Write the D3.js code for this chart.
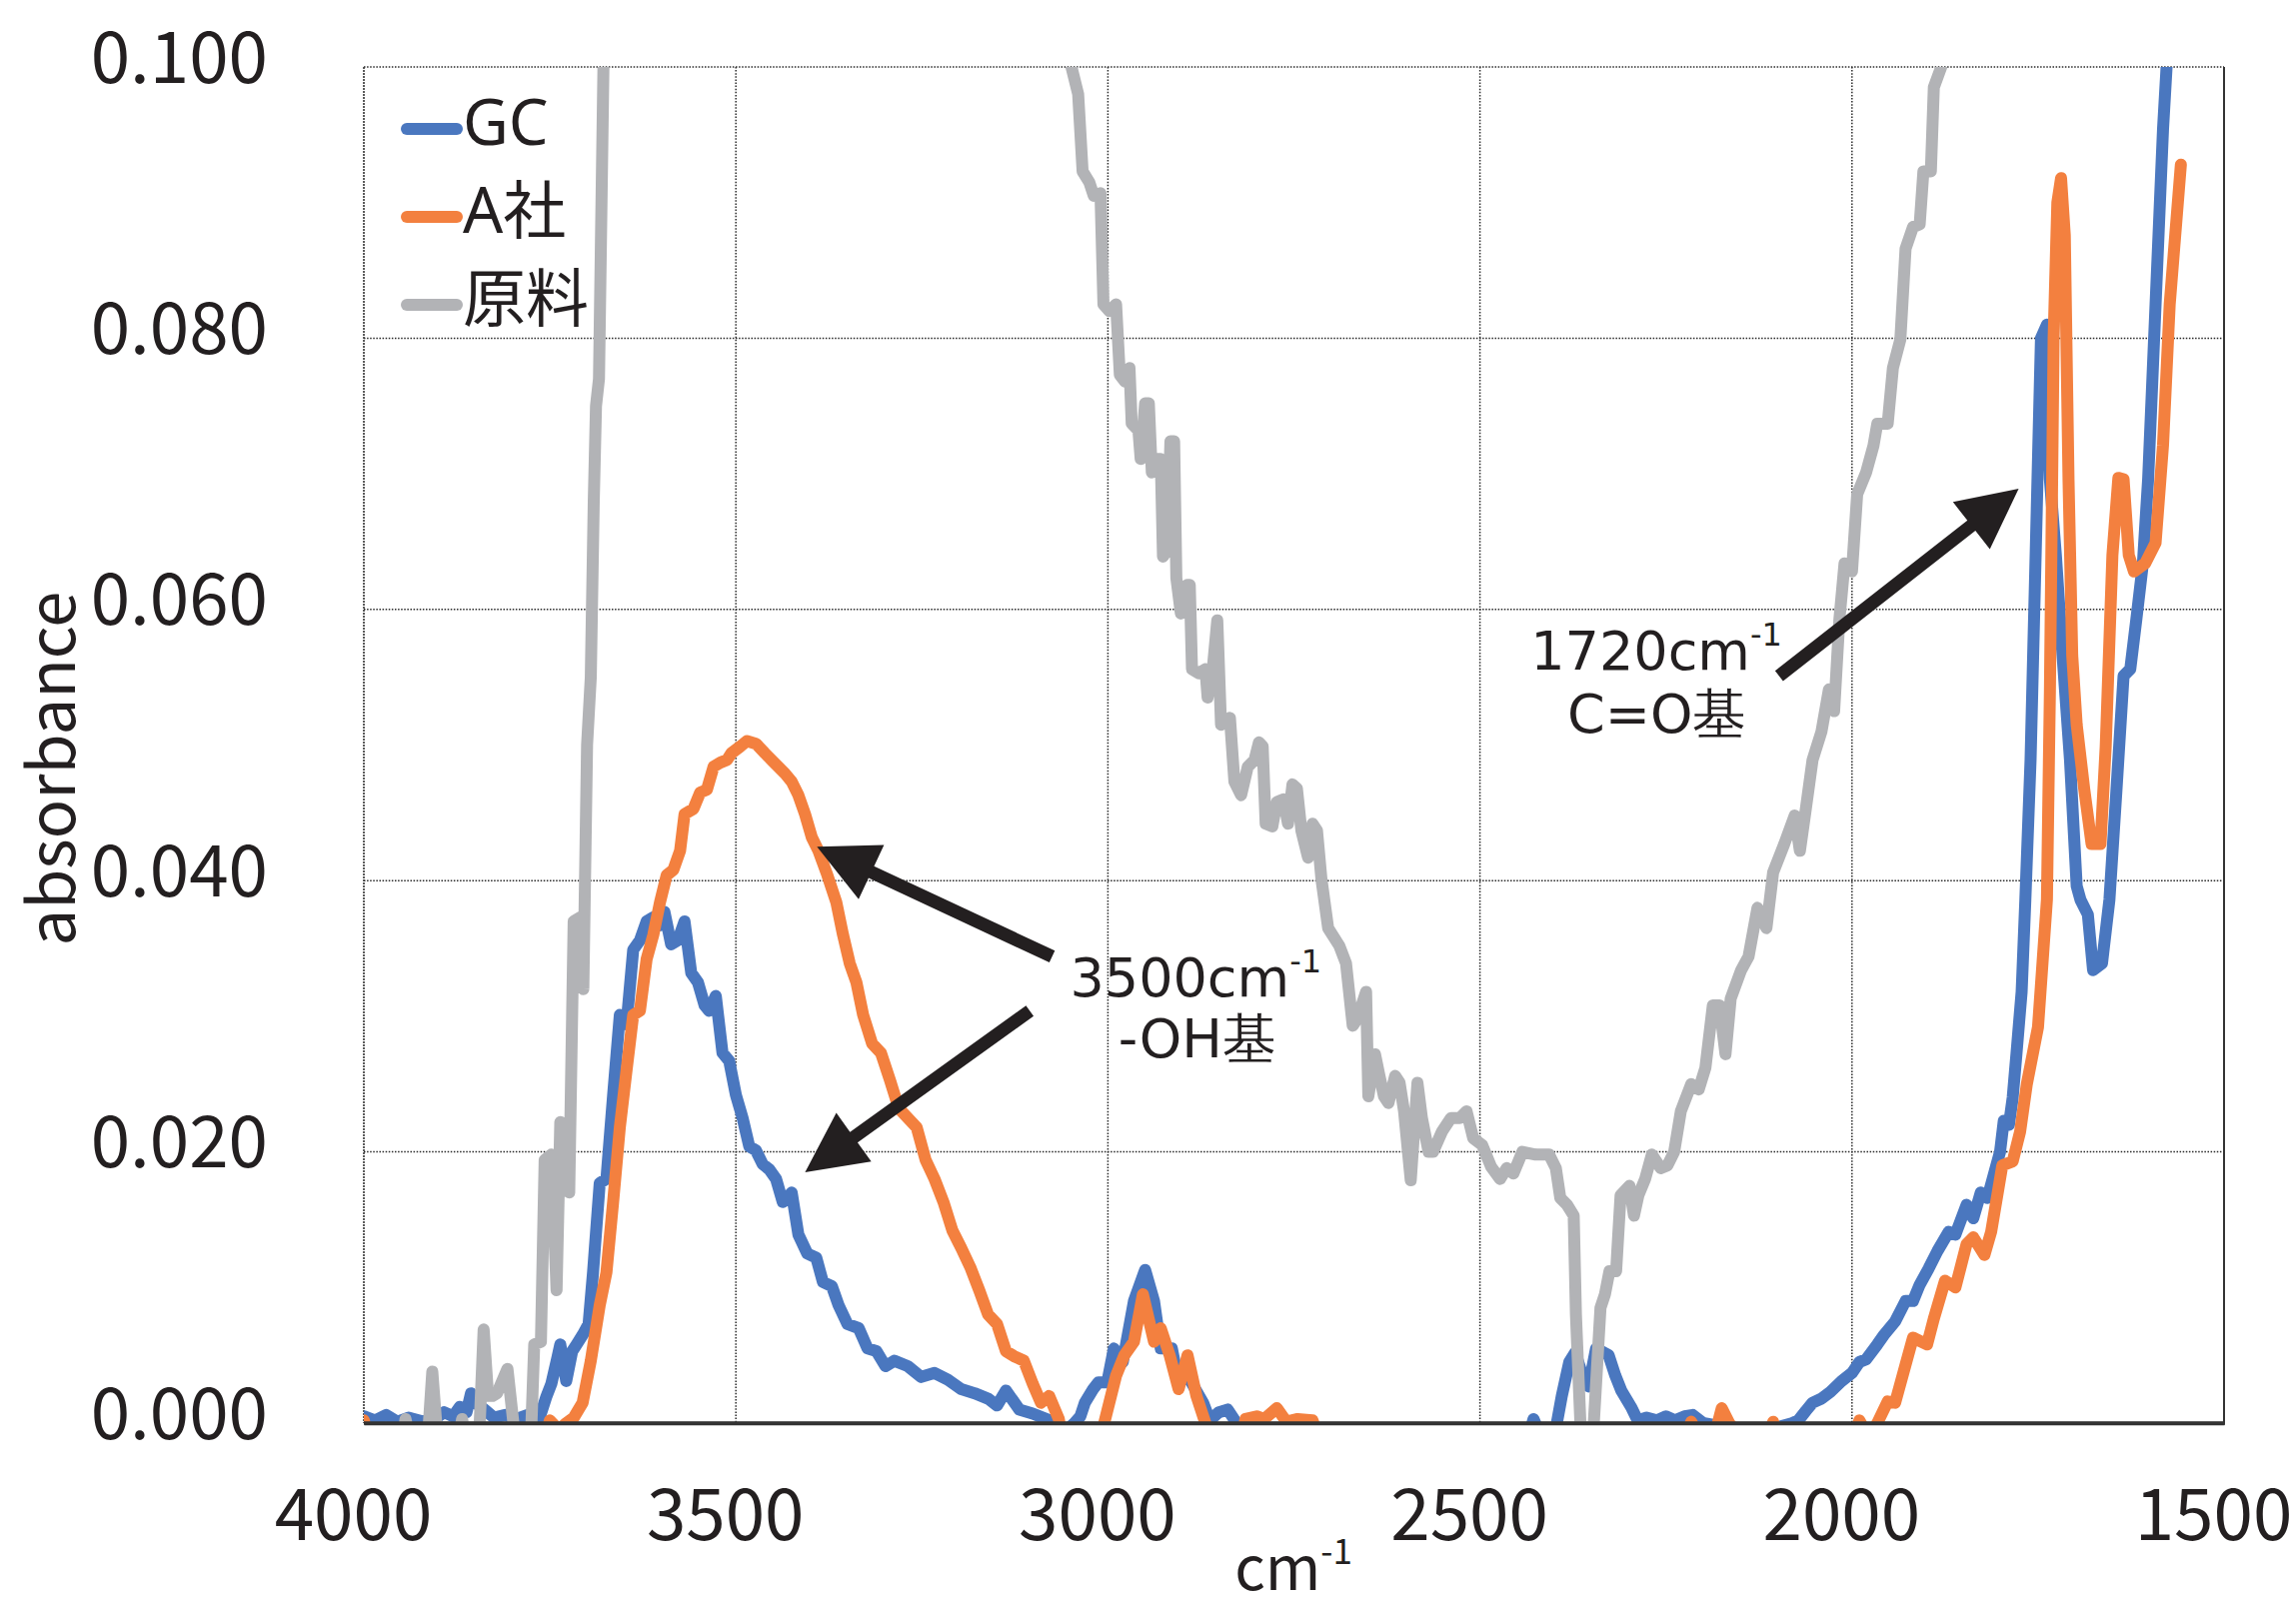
<!DOCTYPE html>
<html><head><meta charset="utf-8">
<script src="https://cdn.jsdelivr.net/npm/d3@7"></script>
<style>body{margin:0;background:#fff}</style>
</head><body>
<svg id="chart" width="2297" height="1611"></svg>
<script>
// ---- data ----
const xTicks = [4000, 3500, 3000, 2500, 2000, 1500];
const yTicks = [0, 0.02, 0.04, 0.06, 0.08, 0.1];
const seriesNames = ["GC", "A社", "原料"];
const seriesColors = ["#4a77bf", "#f3803f", "#b2b3b6"];

// [wavenumber cm-1, absorbance]
const gcData = [
[4000,0.0005],[3985,0.0002],[3970,0.0006],[3955,0.0001],[3940,0.0004],[3920,0.0001],[3905,0.0003],[3892,0.0008],
[3880,0.0005],[3871,0.0012],[3862,0.0008],[3856,0.0022],[3848,0.0014],[3838,0.001],[3825,0.0004],[3810,0.0006],
[3795,0.0003],[3780,0.0006],[3765,0.0002],[3755,0.0019],[3748,0.0029],[3740,0.0048],[3736,0.0058],[3728,0.0031],
[3720,0.0053],[3714,0.0058],[3706,0.0065],[3698,0.0073],[3692,0.0111],[3683,0.0177],[3674,0.018],[3665,0.0242],
[3656,0.0301],[3647,0.0294],[3638,0.0349],[3629,0.0356],[3620,0.037],[3611,0.0373],[3602,0.0367],[3596,0.0377],
[3587,0.0353],[3578,0.0356],[3569,0.037],[3560,0.0332],[3551,0.0325],[3542,0.0308],[3536,0.0304],[3527,0.0315],
[3518,0.0273],[3509,0.0267],[3500,0.0242],[3491,0.0225],[3482,0.0204],[3473,0.0201],[3464,0.0191],[3455,0.0187],
[3446,0.018],[3437,0.0163],[3425,0.017],[3416,0.0139],[3404,0.0125],[3392,0.0122],[3383,0.0104],[3371,0.0101],
[3362,0.0087],[3350,0.0073],[3335,0.007],[3323,0.0055],[3311,0.0053],[3299,0.0042],[3287,0.0046],[3269,0.0042],
[3251,0.0034],[3233,0.0037],[3215,0.0032],[3197,0.0025],[3179,0.0022],[3161,0.0018],[3149,0.0013],[3137,0.0024],
[3119,0.001],[3101,0.0007],[3083,0.0003],[3070,0.0],[3055,-0.0005],[3045,0.0],[3037,0.0005],[3031,0.0015],
[3020,0.0025],[3013,0.003],[3001,0.003],[2992,0.0055],[2980,0.0045],[2965,0.009],[2950,0.0113],[2938,0.009],
[2929,0.0055],[2914,0.0055],[2905,0.003],[2893,0.0035],[2872,0.0015],[2863,0.0002],[2851,0.0008],[2839,0.001],
[2827,0.0],[2815,-0.002],[2440,-0.002],[2428,0.0003],[2418,-0.001],[2400,-0.001],[2390,0.002],[2380,0.0045],
[2372,0.0052],[2362,0.0035],[2354,0.0027],[2344,0.0055],[2327,0.005],[2318,0.0035],[2310,0.0024],[2296,0.0011],
[2288,0.0002],[2276,0.0004],[2262,0.0002],[2250,0.0005],[2238,0.0002],[2225,0.0005],[2214,0.0006],[2200,0.0],
[2150,-0.0005],[2100,-0.0003],[2080,0.0],[2072,0.0002],[2062,0.0009],[2053,0.0015],[2041,0.0018],[2029,0.0023],
[2014,0.0031],[2000,0.0037],[1990,0.0045],[1981,0.0047],[1966,0.0058],[1957,0.0065],[1942,0.0075],[1928,0.009],
[1918,0.009],[1909,0.0102],[1897,0.0114],[1885,0.0127],[1870,0.0141],[1861,0.0139],[1846,0.0161],[1837,0.0151],
[1827,0.017],[1818,0.0166],[1808,0.0186],[1801,0.020],[1796,0.0223],[1789,0.022],[1784,0.024],[1779,0.0272],
[1772,0.0318],[1767,0.0386],[1760,0.0489],[1753,0.0644],[1746,0.080],[1738,0.081],[1734,0.0696],[1726,0.064],
[1717,0.0566],[1707,0.0489],[1698,0.0396],[1693,0.0386],[1683,0.0375],[1676,0.0334],[1664,0.0339],[1654,0.0386],
[1645,0.0463],[1635,0.0551],[1626,0.0556],[1618,0.0592],[1609,0.0634],[1602,0.0696],[1592,0.0825],[1582,0.0954],
[1572,0.105]
];

const aData = [
[4000,0.0002],[3992,-0.002],[3760,-0.002],[3750,0.0002],[3738,-0.0005],[3728,0.0],[3718,0.0004],[3706,0.0015],
[3695,0.0046],[3683,0.0087],[3674,0.0111],[3665,0.0163],[3656,0.0218],[3647,0.026],[3638,0.0301],[3629,0.0304],
[3620,0.0342],[3611,0.036],[3602,0.0384],[3593,0.0404],[3584,0.0408],[3575,0.0422],[3569,0.0449],[3557,0.0453],
[3548,0.0465],[3539,0.0467],[3530,0.0484],[3521,0.0487],[3512,0.0489],[3506,0.0494],[3494,0.0499],[3485,0.0503],
[3473,0.0501],[3461,0.0494],[3452,0.0489],[3443,0.0484],[3434,0.0479],[3425,0.0473],[3416,0.0463],[3407,0.0449],
[3398,0.0432],[3389,0.0422],[3377,0.0404],[3365,0.0384],[3356,0.036],[3347,0.0339],[3338,0.0325],[3329,0.0301],
[3317,0.028],[3305,0.0273],[3293,0.0253],[3281,0.0232],[3269,0.0225],[3257,0.0218],[3245,0.0194],[3233,0.018],
[3221,0.0163],[3209,0.0142],[3197,0.0129],[3185,0.0115],[3173,0.0098],[3161,0.008],[3149,0.0073],[3137,0.0053],
[3125,0.0049],[3113,0.0046],[3101,0.0029],[3090,0.0015],[3079,0.002],[3066,0.0003],[3058,-0.002],[3012,-0.002],
[3005,0.0],[2989,0.0035],[2978,0.005],[2965,0.006],[2953,0.0095],[2938,0.006],[2929,0.007],[2917,0.005],
[2905,0.0025],[2893,0.005],[2881,0.002],[2869,0.0],[2860,-0.002],[2825,-0.002],[2815,0.0003],[2800,0.0005],
[2790,0.0003],[2773,0.0011],[2760,0.0001],[2745,0.0003],[2725,0.0002],[2710,-0.002],[2230,-0.002],[2216,0.0001],
[2206,-0.001],[2185,-0.001],[2175,0.0011],[2165,0.0],[2150,-0.001],[2110,-0.001],[2106,0.0001],[2100,-0.001],
[1998,-0.001],[1990,0.0002],[1978,-0.001],[1966,0.0],[1952,0.0016],[1942,0.0015],[1928,0.0043],[1918,0.0063],
[1899,0.0058],[1890,0.0077],[1875,0.0105],[1861,0.01],[1846,0.0132],[1837,0.0137],[1822,0.0124],[1813,0.0141],
[1798,0.019],[1784,0.0193],[1774,0.0215],[1765,0.025],[1750,0.0292],[1738,0.0386],[1734,0.054],[1729,0.080],
[1724,0.090],[1719,0.0918],[1714,0.0876],[1709,0.0696],[1704,0.0566],[1698,0.0515],[1688,0.0468],[1678,0.0427],
[1666,0.0427],[1659,0.0499],[1650,0.064],[1642,0.0697],[1635,0.0696],[1628,0.064],[1621,0.0628],[1606,0.0634],
[1592,0.0649],[1582,0.0721],[1573,0.0825],[1558,0.0928]
];

const rawData = [
[4000,-0.002],[3950,-0.002],[3944,0.0003],[3935,-0.002],[3915,-0.002],[3908,0.0038],[3900,-0.002],[3875,-0.002],
[3868,0.0003],[3860,-0.002],[3845,-0.001],[3839,0.0069],[3833,0.002],[3827,0.002],[3821,0.0022],[3807,0.004],
[3797,-0.001],[3776,-0.002],[3771,0.0058],[3762,0.006],[3757,0.0194],[3748,0.0198],[3741,0.0098],[3736,0.0222],
[3730,0.022],[3724,0.017],[3718,0.037],[3709,0.0373],[3705,0.032],[3700,0.050],[3695,0.055],[3691,0.068],
[3688,0.075],[3684,0.077],[3678,0.100],[3672,0.13],[3055,0.13],
[3049,0.1],[3040,0.098],[3034,0.0923],[3025,0.0915],[3019,0.0905],[3010,0.0907],[3006,0.0825],[2998,0.082],
[2989,0.0825],[2984,0.0773],[2977,0.0768],[2971,0.0778],[2968,0.0737],[2959,0.0732],[2956,0.0711],[2950,0.0752],
[2945,0.0752],[2941,0.0701],[2935,0.0711],[2929,0.0711],[2926,0.0639],[2920,0.0644],[2916,0.0724],[2911,0.0724],
[2908,0.0623],[2902,0.0597],[2893,0.0618],[2890,0.0618],[2887,0.0556],[2878,0.0553],[2869,0.0556],[2866,0.0535],
[2860,0.0551],[2853,0.0592],[2848,0.0515],[2836,0.052],[2830,0.0473],[2821,0.0463],[2812,0.0484],[2803,0.0489],
[2797,0.0502],[2792,0.0499],[2788,0.0442],[2779,0.044],[2773,0.0458],[2764,0.046],[2758,0.0442],[2752,0.0471],
[2746,0.0468],[2740,0.0437],[2731,0.0417],[2725,0.0442],[2719,0.0437],[2713,0.0401],[2704,0.0365],[2689,0.0352],
[2680,0.0339],[2671,0.0293],[2665,0.0298],[2659,0.0308],[2653,0.0318],[2650,0.0241],[2641,0.0272],[2635,0.0256],
[2629,0.0241],[2623,0.0236],[2614,0.0256],[2608,0.0251],[2602,0.023],[2593,0.0179],[2584,0.0251],[2578,0.0225],
[2569,0.020],[2563,0.020],[2551,0.0215],[2539,0.0225],[2527,0.0225],[2518,0.023],[2509,0.021],[2497,0.0205],
[2485,0.0189],[2473,0.018],[2464,0.0188],[2455,0.0184],[2443,0.020],[2425,0.0198],[2407,0.0198],[2398,0.0188],
[2392,0.0166],[2383,0.0161],[2374,0.0153],[2371,0.008],[2365,0.0],[2360,-0.003],[2350,-0.003],[2347,0.0],
[2338,0.0085],[2332,0.0095],[2326,0.0112],[2317,0.0112],[2311,0.0168],[2299,0.0175],[2293,0.0153],[2287,0.0168],
[2278,0.018],[2269,0.0198],[2257,0.0188],[2248,0.019],[2239,0.020],[2230,0.023],[2216,0.025],[2206,0.0246],
[2197,0.0262],[2187,0.0308],[2178,0.0308],[2170,0.0272],[2163,0.0313],[2149,0.0334],[2139,0.0344],[2127,0.038],
[2115,0.0365],[2106,0.0406],[2091,0.0427],[2077,0.0448],[2070,0.0422],[2062,0.0453],[2053,0.0489],[2041,0.051],
[2031,0.0541],[2024,0.0525],[2017,0.0592],[2010,0.0634],[2000,0.0628],[1993,0.0685],[1981,0.0701],[1971,0.0721],
[1966,0.0737],[1952,0.0737],[1945,0.0778],[1935,0.0799],[1928,0.0866],[1918,0.0882],[1909,0.0884],[1904,0.0923],
[1894,0.0923],[1890,0.0985],[1880,0.1],[1870,0.105]
];

// annotations: arrows [tailCm, tailAbs, tipCm, tipAbs]
const arrowData = [
  [3075, 0.0344, 3391, 0.0425],
  [3105, 0.0304, 3407, 0.0185],
  [2098, 0.0551, 1776, 0.0689]
];
// labels [centerCm, baselineAbs, main, superscript]
const labelData = [
  [2882, 0.0315, "3500cm", "-1"],
  [2880, 0.0270, "-OH基", ""],
  [2263, 0.0556, "1720cm", "-1"],
  [2262, 0.0509, "C=O基", ""]
];

// ---- layout ----
const svg = d3.select("#chart");
const M = {left: 364, right: 2225, top: 67, bottom: 1424};
const x = d3.scaleLinear().domain([4000, 1500]).range([M.left, M.right]);
const y = d3.scaleLinear().domain([0, 0.1]).range([M.bottom, M.top]);
const tickFont = "'Noto Sans CJK JP', 'Noto Sans', sans-serif";
const legendFont = "'Noto Sans', 'Noto Sans CJK JP', sans-serif";
const textColor = "#231f20";

svg.append("rect").attr("width", 2297).attr("height", 1611).attr("fill", "#fff");

// gridlines
const grid = svg.append("g");
grid.selectAll(".gx").data(xTicks.slice(1, -1)).join("line")
  .attr("x1", d => x(d)).attr("x2", d => x(d)).attr("y1", M.top).attr("y2", M.bottom)
  .attr("stroke", "#2a2a2a").attr("stroke-width", 1.5).attr("stroke-dasharray", "1.5,1.6");
grid.selectAll(".gy").data(yTicks.slice(1)).join("line")
  .attr("x1", M.left).attr("x2", M.right).attr("y1", d => y(d)).attr("y2", d => y(d))
  .attr("stroke", "#2a2a2a").attr("stroke-width", 1.5).attr("stroke-dasharray", "1.5,1.6");

// frame
svg.append("line").attr("x1", M.left).attr("x2", M.left).attr("y1", M.top).attr("y2", M.bottom)
  .attr("stroke", "#333").attr("stroke-width", 1.6).attr("stroke-dasharray", "2,1");
svg.append("line").attr("x1", M.right).attr("x2", M.right).attr("y1", M.top).attr("y2", M.bottom)
  .attr("stroke", "#333").attr("stroke-width", 2);

// axes
const xAxis = d3.axisBottom(x).tickValues(xTicks).tickSize(0).tickPadding(0).tickFormat(d3.format("d"));
const gx = svg.append("g").attr("transform", `translate(0,${M.bottom})`).call(xAxis);
gx.select(".domain").attr("stroke", "#333").attr("stroke-width", 3.5);
gx.selectAll("text").attr("font-family", tickFont).attr("font-size", 71).attr("fill", textColor)
  .attr("dy", null).attr("y", 117).attr("dx", -11);

const yAxis = d3.axisLeft(y).tickValues(yTicks).tickSize(0).tickPadding(0).tickFormat(d3.format(".3f"));
const gy = svg.append("g").attr("transform", `translate(${M.left},0)`).call(yAxis);
gy.select(".domain").remove();
gy.selectAll("text").attr("font-family", tickFont).attr("font-size", 71).attr("fill", textColor)
  .attr("dy", null).attr("y", 15).attr("x", -96);

// axis titles
svg.append("text").attr("transform", "translate(75,769) rotate(-90)")
  .attr("text-anchor", "middle").attr("font-family", tickFont).attr("font-size", 65).attr("fill", textColor)
  .text("absorbance");
const xt = svg.append("text").attr("x", 1294).attr("y", 1591).attr("text-anchor", "middle")
  .attr("font-family", tickFont).attr("font-size", 60).attr("fill", textColor);
xt.append("tspan").text("cm");
xt.append("tspan").attr("font-size", 35).attr("dy", -26).text("-1");

// clip
svg.append("clipPath").attr("id", "plotclip").append("rect")
  .attr("x", M.left).attr("y", M.top).attr("width", M.right - M.left).attr("height", M.bottom - M.top);

const line = d3.line().x(d => x(d[0])).y(d => y(d[1]));
const allSeries = [gcData, aData, rawData];
const lines = svg.append("g").attr("clip-path", "url(#plotclip)");
lines.selectAll("path").data(allSeries).join("path")
  .attr("d", line).attr("fill", "none")
  .attr("stroke", (d, i) => seriesColors[i]).attr("stroke-width", 12)
  .attr("stroke-linejoin", "round").attr("stroke-linecap", "round");

// redraw bottom axis over lines
svg.append("line").attr("x1", M.left).attr("x2", M.right + 1).attr("y1", M.bottom).attr("y2", M.bottom)
  .attr("stroke", "#333").attr("stroke-width", 3.5);

// legend
const leg = svg.append("g");
seriesNames.forEach((name, i) => {
  const ly = 129 + i * 88;
  leg.append("line").attr("x1", 407).attr("x2", 457).attr("y1", ly).attr("y2", ly)
    .attr("stroke", seriesColors[i]).attr("stroke-width", 12).attr("stroke-linecap", "round");
  leg.append("text").attr("x", 463).attr("y", ly + 16).attr("font-family", legendFont)
    .attr("font-size", 63).attr("fill", textColor).text(name);
});

// arrows
const arrowG = svg.append("g");
arrowData.forEach(a => {
  const x1 = x(a[0]), y1 = y(a[1]), x2 = x(a[2]), y2 = y(a[3]);
  const dx = x2 - x1, dy = y2 - y1, L = Math.hypot(dx, dy);
  const ux = dx / L, uy = dy / L, nx = -uy, ny = ux;
  const hl = 60, hw = 30, sw = 6.5;
  const bx = x2 - ux * hl, by = y2 - uy * hl;
  const pts = [
    [x1 + nx * sw, y1 + ny * sw], [bx + nx * sw, by + ny * sw], [bx + nx * hw, by + ny * hw],
    [x2, y2], [bx - nx * hw, by - ny * hw], [bx - nx * sw, by - ny * sw], [x1 - nx * sw, y1 - ny * sw]
  ];
  arrowG.append("path").attr("d", "M" + pts.map(p => p.join(",")).join("L") + "Z").attr("fill", "#231f20");
});

// labels
labelData.forEach(l => {
  const t = svg.append("text").attr("x", x(l[0])).attr("y", y(l[1])).attr("text-anchor", "middle")
    .attr("font-family", "'DejaVu Sans', Verdana, sans-serif").attr("font-size", 54).attr("fill", textColor);
  t.append("tspan").text(l[2]);
  if (l[3]) t.append("tspan").attr("font-size", 32).attr("dy", -24).text(l[3]);
});
</script>
</body></html>
